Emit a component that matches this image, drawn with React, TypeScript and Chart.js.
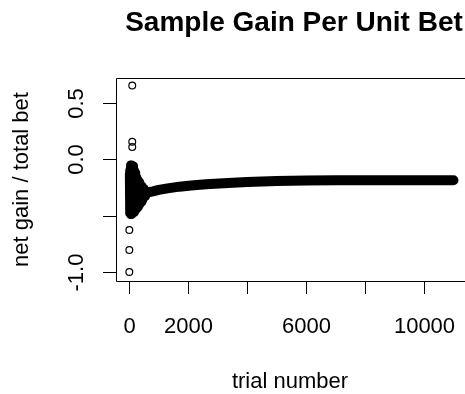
import React, { useEffect, useRef } from "react";
import { Chart, registerables } from "chart.js";

Chart.register(...registerables);

const chartTitle = "Sample Gain Per Unit Bet";
const xAxisTitle = "trial number";
const yAxisTitle = "net gain / total bet";

const xTickValues = [0, 2000, 4000, 6000, 8000, 10000];
const xTickLabels = ["0", "2000", "", "6000", "", "10000"];
const yTickValues = [-1, -0.5, 0, 0.5];
const yTickLabels = ["-1.0", "", "0.0", "0.5"];

// early, highly fluctuating running ratio (first few hundred trials)
const earlyTrials = [2, 8, 14, 20, 26, 32, 40, 48, 56, 64, 72, 80, 90, 100, 110, 120, 130, 140, 150, 160, 172, 184, 196, 210, 225, 240, 256, 272, 290, 310, 330, 352, 376, 400, 430, 460, 500, 550, 600];
const earlyValues = [-0.13, -0.47, -0.1, -0.48, -0.09, -0.49, -0.07, -0.48, -0.05, -0.49, -0.05, -0.48, -0.05, -0.485, -0.055, -0.48, -0.06, -0.47, -0.08, -0.47, -0.1, -0.46, -0.12, -0.45, -0.14, -0.44, -0.16, -0.43, -0.18, -0.42, -0.2, -0.4, -0.22, -0.38, -0.24, -0.36, -0.26, -0.33, -0.295];

// converging running ratio
const mainTrials = [600, 800, 1000, 1300, 1700, 2100, 2600, 3200, 4000, 5000, 6000, 7000, 8000, 9000, 10000, 11000];
const mainValues = [-0.295, -0.285, -0.272, -0.258, -0.243, -0.232, -0.222, -0.212, -0.202, -0.193, -0.189, -0.187, -0.186, -0.186, -0.186, -0.186];

// isolated early observations
const outlierTrials = [100, 100, 100, 1, 1, 1];
const outlierValues = [0.655, 0.155, 0.108, -0.627, -0.805, -1.0];

const FONT = "'Liberation Sans', Arial, sans-serif";

const rAxesPlugin = {
  id: "rAxes",
  afterDraw(chart: any) {
    const { ctx, chartArea: a, scales } = chart;
    const x = scales.x;
    const y = scales.y;
    ctx.save();
    ctx.strokeStyle = "#000";
    ctx.fillStyle = "#000";
    ctx.lineWidth = 1;
    // box: left, top and bottom sides (right side lies outside the view)
    ctx.beginPath();
    ctx.moveTo(a.left + 0.5, a.top + 0.5);
    ctx.lineTo(a.right + 10, a.top + 0.5);
    ctx.stroke();
    ctx.beginPath();
    ctx.moveTo(a.left + 0.5, a.top + 0.5);
    ctx.lineTo(a.left + 0.5, a.bottom + 0.5);
    ctx.stroke();
    ctx.beginPath();
    ctx.moveTo(a.left + 0.5, a.bottom + 0.5);
    ctx.lineTo(a.right + 10, a.bottom + 0.5);
    ctx.stroke();

    // x ticks
    ctx.font = `22px ${FONT}`;
    ctx.textAlign = "center";
    ctx.textBaseline = "alphabetic";
    xTickValues.forEach((v, i) => {
      const px = Math.round(x.getPixelForValue(v)) + 0.5;
      ctx.beginPath();
      ctx.moveTo(px, a.bottom);
      ctx.lineTo(px, a.bottom + 13);
      ctx.stroke();
      if (xTickLabels[i]) ctx.fillText(xTickLabels[i], px, 333);
    });

    // y ticks
    yTickValues.forEach((v, i) => {
      const py = Math.round(y.getPixelForValue(v)) + 0.5;
      ctx.beginPath();
      ctx.moveTo(a.left, py);
      ctx.lineTo(a.left - 13, py);
      ctx.stroke();
      if (yTickLabels[i]) {
        ctx.save();
        ctx.translate(83, py);
        ctx.rotate(-Math.PI / 2);
        ctx.textAlign = "center";
        ctx.fillText(yTickLabels[i], 0, 0);
        ctx.restore();
      }
    });

    // axis titles
    ctx.textAlign = "center";
    ctx.fillText(xAxisTitle, 290, 388);
    ctx.save();
    ctx.translate(28, (a.top + a.bottom) / 2);
    ctx.rotate(-Math.PI / 2);
    ctx.fillText(yAxisTitle, 0, 0);
    ctx.restore();

    // main title
    ctx.font = `bold 28px ${FONT}`;
    ctx.fillText(chartTitle, 294, 31);
    ctx.restore();
  },
};

export default function App() {
  const ref = useRef<HTMLCanvasElement | null>(null);
  useEffect(() => {
    if (!ref.current) return;
    const chart = new Chart(ref.current, {
      type: "scatter",
      data: {
        datasets: [
          {
            type: "line",
            data: mainTrials.map((t, i) => ({ x: t, y: mainValues[i] })),
            borderColor: "#000",
            borderWidth: 10,
            borderCapStyle: "round",
            borderJoinStyle: "round",
            pointRadius: 0,
            tension: 0,
            clip: false,
          } as any,
          {
            type: "line",
            data: earlyTrials.map((t, i) => ({ x: t, y: earlyValues[i] })),
            borderColor: "#000",
            borderWidth: 9,
            borderCapStyle: "round",
            borderJoinStyle: "round",
            pointRadius: 0,
            tension: 0,
            clip: false,
          } as any,
          {
            type: "scatter",
            data: outlierTrials.map((t, i) => ({ x: t, y: outlierValues[i] })),
            borderColor: "#000",
            backgroundColor: "rgba(0,0,0,0)",
            borderWidth: 1.2,
            pointRadius: 3.4,
            pointStyle: "circle",
            clip: false,
          } as any,
        ],
      },
      options: {
        animation: false,
        responsive: false,
        events: [],
        layout: { padding: { left: 116, right: 15, top: 78, bottom: 113 } },
        plugins: { legend: { display: false }, tooltip: { enabled: false }, title: { display: false } },
        scales: {
          x: { type: "linear", display: false, min: -451, max: 11391 },
          y: { type: "linear", display: false, min: -1.08, max: 0.721 },
        },
      },
      plugins: [rAxesPlugin],
    });
    return () => chart.destroy();
  }, []);
  return (
    <div style={{ position: "fixed", left: 0, top: 0, width: 465, height: 394, overflow: "hidden", background: "#fff" }}>
      <canvas ref={ref} width={480} height={394} style={{ display: "block" }} />
    </div>
  );
}
